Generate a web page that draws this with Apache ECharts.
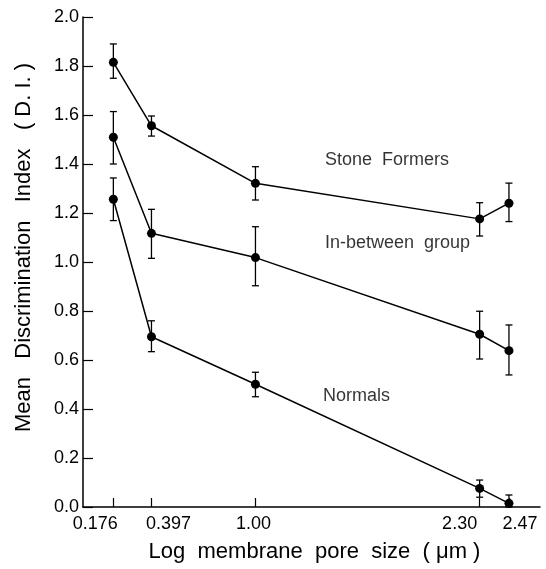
<!DOCTYPE html>
<html><head><meta charset="utf-8">
<script src="https://cdn.jsdelivr.net/npm/echarts@6/dist/echarts.min.js"></script>
<style>html,body{margin:0;padding:0;background:#fff}#c{width:546px;height:569px}</style>
</head><body><div id="c"></div>
<script>
const xValues = [0.176, 0.397, 1.00, 2.30, 2.47];
const xTickLabels = ['0.176', '0.397', '1.00', '2.30', '2.47'];
const seriesNames = ['Stone Formers', 'In-between group', 'Normals'];
const stoneMean = [1.815, 1.556, 1.321, 1.176, 1.240];
const stoneLow  = [1.750, 1.514, 1.253, 1.106, 1.165];
const stoneHigh = [1.890, 1.596, 1.389, 1.242, 1.322];
const betweenMean = [1.509, 1.117, 1.018, 0.705, 0.638];
const betweenLow  = [1.400, 1.015, 0.903, 0.604, 0.539];
const betweenHigh = [1.614, 1.215, 1.144, 0.799, 0.743];
const normalMean = [1.256, 0.695, 0.501, 0.076, 0.015];
const normalLow  = [1.169, 0.634, 0.450, 0.040, -0.015];
const normalHigh = [1.343, 0.760, 0.550, 0.110, 0.049];
// annotation anchor positions (data space)
const labelAnchors = [[1.403, 1.418], [1.403, 1.078], [1.392, 0.453]];
// layout: horizontal shift (px) of each x tick label relative to its tick
const xLabelShift = [-18, 17, -2, -20, 11];

const FONT = 'Liberation Sans';
const means = [stoneMean, betweenMean, normalMean];
const lows = [stoneLow, betweenLow, normalLow];
const highs = [stoneHigh, betweenHigh, normalHigh];

const rich = {};
xTickLabels.forEach((t, k) => {
  const s = xLabelShift[k];
  rich['t' + k] = {fontSize: 18, fontFamily: FONT, color: '#000',
    padding: s < 0 ? [0, -2 * s, 0, 0] : [0, 0, 0, 2 * s]};
});

const series = [];
means.forEach((m, i) => {
  series.push({
    name: seriesNames[i], type: 'line',
    data: xValues.map((x, j) => [x, m[j]]),
    symbol: 'circle', symbolSize: 9,
    itemStyle: {color: '#000'},
    lineStyle: {color: '#000', width: 1.5},
    z: 3, silent: true
  });
  series.push({
    type: 'custom', silent: true, z: 2,
    data: xValues.map((x, j) => [x, lows[i][j], highs[i][j]]),
    renderItem: function (params, api) {
      const lo = api.coord([api.value(0), Math.max(0, api.value(1))]);
      const hi = api.coord([api.value(0), api.value(2)]);
      const w = 3.5;
      const st = {stroke: '#000', lineWidth: 1.3};
      return {type: 'group', children: [
        {type: 'line', shape: {x1: lo[0], y1: lo[1], x2: hi[0], y2: hi[1]}, style: st},
        {type: 'line', shape: {x1: lo[0]-w, y1: lo[1], x2: lo[0]+w, y2: lo[1]}, style: st},
        {type: 'line', shape: {x1: hi[0]-w, y1: hi[1], x2: hi[0]+w, y2: hi[1]}, style: st}
      ]};
    }
  });
});
series.push({
  type: 'scatter', silent: true, z: 5,
  data: labelAnchors.map((a, i) => ({value: a, name: seriesNames[i]})),
  symbol: 'circle', symbolSize: 1,
  itemStyle: {color: 'rgba(0,0,0,0)'},
  label: {show: true, position: 'inside', align: 'left', verticalAlign: 'middle',
    formatter: p => p.name.replace(' ', '  '), color: '#000', fontSize: 18, fontFamily: FONT}
});

const chart = echarts.init(document.getElementById('c'), null, {renderer: 'canvas'});
chart.setOption({
  animation: false,
  backgroundColor: '#fff',
  grid: {left: 83, top: 17, right: 6, bottom: 62, containLabel: false, outerBoundsMode: 'none'},
  xAxis: {
    type: 'value', min: 0, max: 2.65,
    name: 'Log  membrane  pore  size  ( μm )', nameLocation: 'middle', nameGap: 34,
    nameTextStyle: {fontSize: 22, fontFamily: FONT, color: '#000', padding: [0, 0, 0, 6]},
    axisLine: {show: true, lineStyle: {color: '#000', width: 1.5}},
    axisTick: {show: true, inside: true, length: 9, customValues: xValues, lineStyle: {color: '#000', width: 1.2}},
    axisLabel: {show: true, customValues: xValues, interval: 0, hideOverlap: false, showMinLabel: true, showMaxLabel: true,
      margin: 8, fontSize: 18, fontFamily: FONT, color: '#000', rich: rich,
      formatter: v => { const k = xValues.findIndex(x => Math.abs(x - v) < 1e-6); return k >= 0 ? '{t' + k + '|' + xTickLabels[k] + '}' : ''; }},
    splitLine: {show: false}
  },
  yAxis: {
    type: 'value', min: 0, max: 2.0, interval: 0.2,
    name: 'Mean   Discrimination   Index   ( D. I. )', nameLocation: 'middle', nameGap: 48,
    nameTextStyle: {fontSize: 22, fontFamily: FONT, color: '#000', padding: [0, 0, 0, 29]},
    axisLine: {show: true, lineStyle: {color: '#000', width: 1.5}},
    axisTick: {show: true, inside: true, length: 10, lineStyle: {color: '#000', width: 1.2}},
    axisLabel: {margin: 4, fontSize: 18, fontFamily: FONT, color: '#000', formatter: v => v.toFixed(1)},
    splitLine: {show: false}
  },
  series: series
});
</script></body></html>
